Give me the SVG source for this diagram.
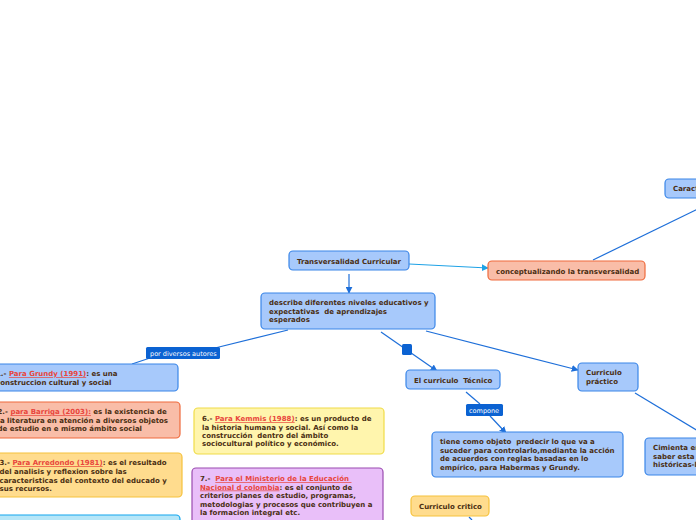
<svg xmlns="http://www.w3.org/2000/svg" width="696" height="520" viewBox="0 0 696 520">
<style>
.n{stroke-width:1.2}
.b{fill:#a7c9fb;stroke:#3a86e8}
.s{fill:#f9bda8;stroke:#ef6a3c}
.o{fill:#ffdc8e;stroke:#f6c23c}
.y{fill:#fff5ad;stroke:#f0dc48}
.p{fill:#e9bff9;stroke:#9a4bb0}
.c{fill:#b6e6f8;stroke:#12a6ee}
text{font-family:"DejaVu Sans",Verdana,sans-serif;font-size:7px;font-weight:bold;fill:#4a2e12;white-space:pre}
.lk{fill:#e8453c;text-decoration:underline}
.lb{fill:#0b62d2}
.lt{fill:#ffffff;font-weight:normal;font-size:6.5px}
.e{fill:none;stroke:#1e6fd9;stroke-width:1.2}
.e2{fill:none;stroke:#1ea2e6;stroke-width:1.2}
</style>
<defs>
<marker id="a" viewBox="0 0 10 10" refX="9" refY="5" markerWidth="7" markerHeight="7" markerUnits="userSpaceOnUse" orient="auto"><path d="M0,0L10,5L0,10z" fill="#1e6fd9"/></marker>
<marker id="a2" viewBox="0 0 10 10" refX="9" refY="5" markerWidth="7" markerHeight="7" markerUnits="userSpaceOnUse" orient="auto"><path d="M0,0L10,5L0,10z" fill="#1ea2e6"/></marker>
</defs>
<rect width="696" height="520" fill="#ffffff"/>
<g id="connectors">
<path class="e" d="M349,274V293" marker-end="url(#a)"/>
<path class="e2" d="M409,264L488,268" marker-end="url(#a2)"/>
<path class="e" d="M593,260L700,208"/>
<path class="e" d="M288,330L215,348"/>
<path class="e" d="M150,358L132,364"/>
<path class="e" d="M381,332L437,371" marker-end="url(#a)"/>
<rect x="402" y="344" width="10" height="11" rx="1.5" fill="#0b62d2"/>
<path class="e" d="M426,331L578,370" marker-end="url(#a)"/>
<path class="e" d="M466,392L480,404"/>
<path class="e" d="M490,416L506,433" marker-end="url(#a)"/>
<path class="e" d="M635,393L698,431"/>
<path class="e" d="M469,517L472,520"/>
<g id="lbl-autores"><rect class="lb" x="146" y="347" width="74" height="12" rx="1.5"/><text class="lt" x="150" y="356">por diversos autores</text></g>
<g id="lbl-compone"><rect class="lb" x="466" y="404" width="37" height="12" rx="1.5"/><text class="lt" x="469" y="413">compone</text></g>
</g>
<g id="n-caract"><rect class="n b" x="665" y="179" width="45" height="19" rx="4"/><text x="673" y="191">Caracteristicas</text></g>
<g id="n-transv"><rect class="n b" x="289" y="251" width="120" height="19" rx="4"/><text x="349" y="263.5" text-anchor="middle">Transversalidad Curricular</text></g>
<g id="n-concept"><rect class="n s" x="488" y="261" width="157" height="19" rx="4"/><text x="496" y="274">conceptualizando la transversalidad</text></g>
<g id="n-describe"><rect class="n b" x="261" y="293" width="174" height="36" rx="4"/><text x="269" y="305">describe diferentes niveles educativos y</text><text x="269" y="313.5">expectativas  de aprendizajes</text><text x="269" y="322">esperados</text></g>
<g id="n-grundy"><rect class="n b" x="-10" y="364" width="188" height="27" rx="4"/><text x="-4" y="376"><tspan>1.- </tspan><tspan class="lk">Para Grundy (1991)</tspan><tspan>: es una</tspan></text><text x="-4" y="385">construccion cultural y social</text></g>
<g id="n-barriga"><rect class="n s" x="-10" y="402" width="190" height="36" rx="4"/><text x="-2.5" y="414"><tspan>2.- </tspan><tspan class="lk">para Barriga (2003):</tspan><tspan> es la existencia de</tspan></text><text x="-2.5" y="422.5">la literatura en atención a diversos objetos</text><text x="-2.5" y="431">de estudio en e mismo ámbito social</text></g>
<g id="n-arredondo"><rect class="n o" x="-10" y="453" width="192" height="44" rx="4"/><text x="-0.5" y="465"><tspan>3.- </tspan><tspan class="lk">Para Arredondo (1981)</tspan><tspan>: es el resultado</tspan></text><text x="-0.5" y="473.5">del analisis y reflexion sobre las</text><text x="-0.5" y="482.5">caracteristicas del contexto del educado y</text><text x="-0.5" y="491">sus recursos.</text></g>
<g id="n-bottom"><rect class="n c" x="-10" y="515" width="190" height="20" rx="4"/></g>
<g id="n-kemmis"><rect class="n y" x="194" y="408" width="190" height="46" rx="4"/><text x="202" y="421"><tspan>6.- </tspan><tspan class="lk">Para Kemmis (1988)</tspan><tspan>: es un producto de</tspan></text><text x="202" y="429.5">la historia humana y social. Así como la</text><text x="202" y="437.5">construcción  dentro del ámbito</text><text x="202" y="446">sociocultural político y económico.</text></g>
<g id="n-ministerio"><rect class="n p" x="192" y="468" width="191" height="56" rx="4"/><text x="200" y="481"><tspan>7.-  </tspan><tspan class="lk">Para el Ministerio de la Educación </tspan></text><text x="200" y="489.5"><tspan class="lk">Nacional d colombia</tspan><tspan>: es el conjunto de</tspan></text><text x="200" y="498">criterios planes de estudio, programas,</text><text x="200" y="506.5">metodologias y procesos que contribuyen a</text><text x="200" y="515">la formacion integral etc.</text></g>
<g id="n-tecnico"><rect class="n b" x="406" y="370" width="94" height="19" rx="4"/><text x="414" y="382.5">El curriculo  Técnico</text></g>
<g id="n-tiene"><rect class="n b" x="432" y="432" width="191" height="45" rx="4"/><text x="440" y="444">tiene como objeto  predecir lo que va a</text><text x="440" y="452.5">suceder para controlarlo,mediante la acción</text><text x="440" y="461">de acuerdos con reglas basadas en lo</text><text x="440" y="469.5">empírico, para Habermas y Grundy.</text></g>
<g id="n-practico"><rect class="n b" x="578" y="363" width="60" height="28" rx="4"/><text x="586" y="375">Curriculo</text><text x="586" y="383.5">práctico</text></g>
<g id="n-cimienta"><rect class="n b" x="645" y="438" width="65" height="37" rx="4"/><text x="653" y="450">Cimienta en el</text><text x="653" y="458.5">saber esta</text><text x="653" y="467">históricas-l</text></g>
<g id="n-critico"><rect class="n o" x="411" y="496" width="78" height="20" rx="4"/><text x="419" y="508.5">Curriculo critico</text></g>
</svg>
